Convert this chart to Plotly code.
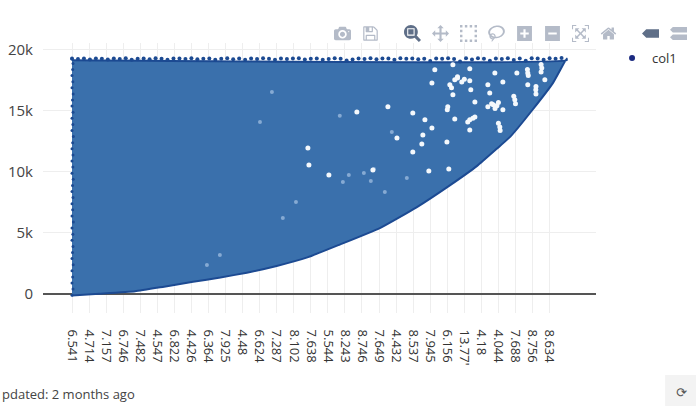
import plotly.graph_objects as go

tick_labels = ["6.541","4.714","7.157","6.746","7.482","4.547","6.822","4.426","6.364","7.925",
               "4.48","6.624","7.287","8.102","7.638","5.544","8.243","8.746","7.649","4.432",
               "8.537","7.945","6.156","13.77'","4.18","4.044","7.688","8.756","8.634"]
y_ticks = [0, 5000, 10000, 15000, 20000]
y_labels = ["0", "5k", "10k", "15k", "20k"]

# lower envelope of the point cloud
low_x = [0, 1.6, 3.7, 5.4, 7.1, 8.7, 10.25, 12.0, 13.8, 15.7, 18.05, 20.2, 22.15, 23.75, 24.9, 25.7, 27.0, 28.2, 29.0]
low_y = [-120, 20, 220, 600, 1000, 1350, 1750, 2300, 3000, 4050, 5400, 7100, 8900, 10500, 11900, 12900, 15100, 17300, 19300]
top_level = [19150, 19150]
top_ends = [29.0, 0]

# top edge of the cloud
top_x = [0.0,0.35,0.7,1.05,1.4,1.75,2.1,2.45,2.8,3.15,3.5,3.85,4.2,4.55,4.9,5.25,5.6,5.95,6.3,6.65,
         7.0,7.35,7.7,8.05,8.4,8.75,9.1,9.45,9.8,10.15,10.5,10.85,11.2,11.55,11.9,12.25,12.6,12.95,13.3,13.65,
         14.0,14.35,14.7,15.05,15.4,15.75,16.1,16.45,16.8,17.15,17.5,17.85,18.2,18.55,18.9,19.25,19.6,19.95,20.3,20.65,
         21.0,21.35,21.7,22.05,22.4,22.75,23.1,23.45,23.8,24.15,24.5,24.85,25.2,25.55,25.9,26.25,26.6,26.95,27.3,27.65,28.0,28.35,28.7]
top_y = [19300,19250,19300,19220,19300,19280,19210,19300,19260,19310,19200,19280,19300,19240,19310,19270,19190,19290,19300,19250,
         19310,19230,19280,19300,19200,19270,19310,19240,19290,19200,19300,19260,19310,19280,19200,19300,19250,19290,19310,19220,
         19280,19300,19190,19250,19310,19280,19130,19210,19300,19260,19310,19240,19290,19300,19200,19310,19270,19300,19240,19280,
         19100,19300,19280,19330,19250,19050,19310,19220,19330,19280,19120,19300,19260,19330,19170,19290,19120,19330,19300,19200,19330,19270,19350]

# left edge of the cloud
left_x = [0.0,0.06,0.0,0.04,0.0,0.07,0.0,0.03,0.06,0.0,0.05,0.0,0.08,0.0,0.04,0.0,0.06,0.0,0.03,0.07,
          0.0,0.05,0.0,0.06,0.0,0.04,0.08,0.0,0.05,0.0,0.06,0.0,0.03,0.07,0.0,0.05,0.0,0.04,0.06,0.0]
left_y = [-100,400,900,1400,1900,2400,2900,3400,3900,4400,4900,5400,5900,6400,6900,7400,7900,8400,8900,9400,
          9900,10400,10900,11400,11900,12400,12900,13400,13900,14400,14900,15400,15900,16400,16900,17400,17900,18400,18900,19250]

# gaps in the cloud
gap_x = [21.27,22.44,22.85,22.15,23.32,21.10,23.32,22.33,22.33,23.38,22.03,23.62,24.79,25.26,24.38,24.49,
         26.72,27.54,26.08,26.72,27.19,25.96,24.91,25.26,24.38,25.08,23.62,23.32,22.44,20.69,21.10,19.98,
         20.57,23.32,27.72,20.51,21.98,19.98,19.05,17.64,20.92,22.09,13.89,15.06,18.52,16.70,13.83,
         22.6,24.7,22.25,22.6,23.0,24.6,24.8,25.0,25.9,26.0,26.7,26.75,27.5,27.5,27.2,27.2,25.1,25.0,23.5,23.2,22.0]
gap_y = [18370,17550,17380,17140,17470,17300,18450,18780,16320,16730,15340,15740,18120,17380,17140,16480,
         18120,18530,18120,17140,16730,15910,15420,15090,15340,13690,14510,14270,14350,14270,13610,14840,
         13040,13450,17550,12300,12460,11640,12790,10170,10090,10250,10580,9760,15340,14920,11970,
         17700,15500,16900,17800,17600,15600,15200,15700,16200,15600,18400,17900,18200,18800,17000,16400,13400,14000,14400,14100,15100]
faint_x = [17.11,17.52,16.23,18.34,19.63,15.70,11.72,11.02,18.75,17.70,15.88,13.13,12.36,8.67,7.91]
faint_y = [9920,9270,9760,8360,9510,14600,16560,14100,13280,10250,9180,7540,6230,3200,2380]

FILL = "#3a70ac"
EDGE = "#1c4a92"

fig = go.Figure()
fig.add_trace(go.Scatter(x=low_x + top_ends, y=low_y + top_level, mode="lines", fill="toself",
                         fillcolor=FILL, line=dict(color=EDGE, width=2, shape="spline", smoothing=0.4),
                         showlegend=False, hoverinfo="skip"))
fig.add_trace(go.Scatter(x=top_x, y=top_y, mode="markers", marker=dict(color=EDGE, size=4),
                         showlegend=False, hoverinfo="skip"))
fig.add_trace(go.Scatter(x=left_x, y=left_y, mode="markers", marker=dict(color=EDGE, size=3),
                         showlegend=False, hoverinfo="skip"))
fig.add_trace(go.Scatter(x=faint_x, y=faint_y, mode="markers", marker=dict(color="#86aad3", size=4),
                         showlegend=False, hoverinfo="skip"))
fig.add_trace(go.Scatter(x=gap_x, y=gap_y, mode="markers", marker=dict(color="#f4f8fc", size=5),
                         showlegend=False, hoverinfo="skip"))
fig.add_trace(go.Scatter(x=[None], y=[None], mode="markers", name="col1",
                         marker=dict(color="#1b2a80", size=6)))

fig.update_layout(
    width=696, height=406, margin=dict(l=43, r=100, t=43, b=93, autoexpand=False),
    paper_bgcolor="white", plot_bgcolor="white",
    font=dict(family="Open Sans", color="#444", size=13),
    showlegend=True,
    legend=dict(x=1.029, y=1.0, xanchor="left", yanchor="top", font=dict(size=13, color="#333")),
    xaxis=dict(range=[-1.7, 30.72], tickmode="array", tickvals=list(range(len(tick_labels))), ticktext=tick_labels,
               tickangle=90, showgrid=True, gridcolor="#eeeeee", zeroline=False, ticks="outside", ticklen=13,
               tickcolor="white", tickfont=dict(size=13, color="#333"), showline=False, automargin=False),
    yaxis=dict(range=[-1557, 20570], tickmode="array", tickvals=y_ticks, ticktext=y_labels,
               showgrid=True, gridcolor="#eeeeee", zeroline=True, zerolinecolor="#555555", zerolinewidth=2,
               ticks="outside", ticklen=6, tickcolor="white", tickfont=dict(size=15, color="#444"), showline=False,
               automargin=False),
    annotations=[
        dict(text="pdated: 2 months ago", xref="paper", yref="paper", x=-0.078, y=-0.30, xanchor="left",
             yanchor="middle", showarrow=False, font=dict(size=13, color="#444")),
        dict(text="⟳", xref="paper", yref="paper", x=1.155, y=-0.295, xanchor="center", yanchor="middle",
             showarrow=False, font=dict(size=13, color="#555", family="DejaVu Sans")),
    ],
    shapes=[dict(type="rect", xref="paper", yref="paper", x0=1.125, x1=1.19, y0=-0.345, y1=-0.23,
                 fillcolor="#f3f3f3", line=dict(width=0), layer="below")],
)

config = dict(
    displayModeBar=True, displaylogo=False, showSendToCloud=True,
    modeBarButtons=[["toImage", "sendDataToCloud"],
                    ["zoom2d", "pan2d", "select2d", "lasso2d", "zoomIn2d", "zoomOut2d", "autoScale2d", "resetScale2d"],
                    ["hoverClosestCartesian", "hoverCompareCartesian"]],
)
post = ("document.body.style.margin='0';"
        "var s=document.createElement('style');"
        "s.textContent='.modebar{top:22px !important;right:4px !important;}"
        ".modebar-btn{font-size:17px !important;padding:3px 5.5px !important;}"
        ".modebar-group{padding-left:14px !important;background:transparent !important;}"
        ".modebar-btn path{fill:#b4bbc8 !important;}"
        ".modebar-btn.active path{fill:#5f6f88 !important;}';"
        "document.head.appendChild(s);")
fig.write_html("out.html", config=config, post_script=post)
